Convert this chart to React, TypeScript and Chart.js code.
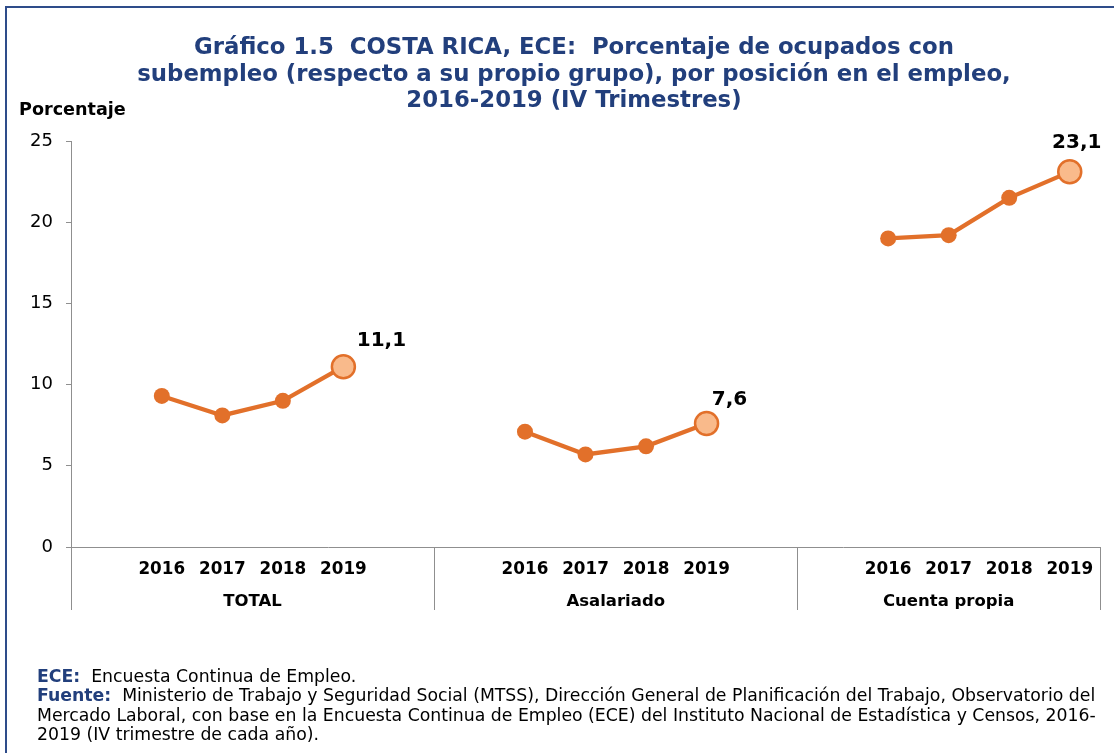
import React, { useEffect, useRef } from "react";
import { Chart, registerables } from "chart.js";

Chart.register(...registerables);

const years = ["2016", "2017", "2018", "2019"];
const groups = ["TOTAL", "Asalariado", "Cuenta propia"];
const totalValues = [9.3, 8.1, 9.0, 11.1];
const asalariadoValues = [7.1, 5.7, 6.2, 7.6];
const cuentaPropiaValues = [19.0, 19.2, 21.5, 23.1];
const yTicks = [0, 5, 10, 15, 20, 25];
const titleLines = [
  "Gráfico 1.5  COSTA RICA, ECE:  Porcentaje de ocupados con",
  "subempleo (respecto a su propio grupo), por posición en el empleo,",
  "2016-2019 (IV Trimestres)",
];
const yAxisTitle = "Porcentaje";

// label placement offsets (pixels) relative to each group's last point
const labelOffsets = [
  { dx: 38, dy: -26 },
  { dx: 23, dy: -24 },
  { dx: 7, dy: -29 },
];

const ORANGE = "#E2702A";
const LIGHT = "#F9BA8B";
const AXIS = "#8f8f8f";
const BLUE = "#223F7C";

// build category slots: empty, 4 years, empty (last group without trailing empty)
const seriesList = [totalValues, asalariadoValues, cuentaPropiaValues];
const labels: string[] = [];
const values: (number | null)[] = [];
const groupStarts: number[] = [];
seriesList.forEach((s, gi) => {
  groupStarts.push(labels.length);
  labels.push("");
  values.push(null);
  years.forEach((y, i) => {
    labels.push(y);
    values.push(s[i]);
  });
  if (gi < seriesList.length - 1) {
    labels.push("");
    values.push(null);
  }
});
const lastIdx = seriesList.map((_, gi) => groupStarts[gi] + years.length);

const decorPlugin = {
  id: "decor",
  afterDraw(chart: any) {
    const { ctx, chartArea, scales } = chart;
    const x = scales.x;
    const y = scales.y;
    const bottom = chartArea.bottom;
    const sepBottom = 610;
    const bounds: number[] = [chartArea.left];
    for (let gi = 1; gi < groupStarts.length; gi++) {
      const i = groupStarts[gi];
      bounds.push((x.getPixelForValue(i - 1) + x.getPixelForValue(i)) / 2);
    }
    bounds.push(chartArea.right);
    ctx.save();
    ctx.strokeStyle = AXIS;
    ctx.lineWidth = 1;
    bounds.forEach((bx) => {
      const px = Math.round(bx) + 0.5;
      ctx.beginPath();
      ctx.moveTo(px, bottom);
      ctx.lineTo(px, sepBottom);
      ctx.stroke();
    });
    ctx.fillStyle = "#000";
    ctx.font = "bold 16.5px 'DejaVu Sans'";
    ctx.textAlign = "center";
    ctx.textBaseline = "middle";
    groups.forEach((g, gi) => {
      ctx.fillText(g, (bounds[gi] + bounds[gi + 1]) / 2, 602);
    });
    // data labels for the last point of each group
    ctx.font = "bold 20px 'DejaVu Sans'";
    ctx.textAlign = "center";
    lastIdx.forEach((idx, gi) => {
      const v = values[idx] as number;
      const px = x.getPixelForValue(idx);
      const py = y.getPixelForValue(v);
      const o = labelOffsets[gi];
      ctx.fillText(v.toFixed(1).replace(".", ","), px + o.dx, py + o.dy);
    });
    ctx.restore();
  },
};

export default function App() {
  const ref = useRef<HTMLCanvasElement>(null);
  useEffect(() => {
    if (!ref.current) return;
    const radius = values.map((v, i) => (lastIdx.includes(i) ? 11.5 : 8));
    const bg = values.map((v, i) => (lastIdx.includes(i) ? LIGHT : ORANGE));
    const bw = values.map((v, i) => (lastIdx.includes(i) ? 2.5 : 0));
    const chart = new Chart(ref.current, {
      type: "line",
      data: {
        labels,
        datasets: [
          {
            data: values,
            borderColor: ORANGE,
            borderWidth: 4.3,
            pointRadius: radius,
            pointBackgroundColor: bg,
            pointBorderColor: ORANGE,
            pointBorderWidth: bw,
            spanGaps: false,
            tension: 0,
          },
        ],
      },
      options: {
        animation: false,
        responsive: false,
        events: [],
        layout: { padding: { top: 141, right: 14, left: 0, bottom: 0 } },
        plugins: { legend: { display: false }, tooltip: { enabled: false }, title: { display: false } },
        scales: {
          x: {
            type: "category",
            offset: true,
            grid: { display: false, drawTicks: false },
            border: { display: true, color: AXIS, width: 1 },
            ticks: {
              autoSkip: false,
              maxRotation: 0,
              color: "#000",
              font: { family: "'DejaVu Sans'", size: 16.8, weight: "bold" },
              padding: 13,
            },
            afterFit: (s: any) => {
              s.height = 753 - 547;
            },
          },
          y: {
            min: 0,
            max: 25,
            afterBuildTicks: (s: any) => {
              s.ticks = yTicks.map((v) => ({ value: v }));
            },
            grid: { drawOnChartArea: false, drawTicks: true, tickLength: 5, color: AXIS },
            border: { display: true, color: AXIS, width: 1 },
            ticks: {
              color: "#000",
              font: { family: "'DejaVu Sans'", size: 18 },
              padding: 13,
            },
            afterFit: (s: any) => {
              s.width = 71;
            },
          },
        },
      },
      plugins: [decorPlugin],
    });
    return () => chart.destroy();
  }, []);

  return (
    <div style={{ position: "fixed", left: 0, top: 0, width: 1114, height: 753, overflow: "hidden", background: "#fff" }}>
      <div
        style={{
          position: "absolute",
          left: 5,
          top: 6,
          width: 1200,
          height: 800,
          border: "2px solid #2E4C8A",
        }}
      />
      <canvas ref={ref} width={1114} height={753} style={{ position: "absolute", left: 0, top: 0 }} />
      <div
        style={{
          position: "absolute",
          left: 0,
          width: 1148,
          top: 33,
          textAlign: "center",
          fontFamily: "'DejaVu Sans'",
          fontWeight: "bold",
          fontSize: 22.8,
          lineHeight: "26.5px",
          color: BLUE,
          whiteSpace: "pre",
        }}
      >
        {titleLines.map((l, i) => (
          <div key={i}>{l}</div>
        ))}
      </div>
      <div
        style={{
          position: "absolute",
          left: 19,
          top: 99,
          fontFamily: "'DejaVu Sans'",
          fontWeight: "bold",
          fontSize: 17.6,
          color: "#000",
          whiteSpace: "pre",
        }}
      >
        {yAxisTitle}
      </div>
      <div
        style={{
          position: "absolute",
          left: 37,
          top: 667,
          fontFamily: "'DejaVu Sans'",
          fontSize: 17.3,
          lineHeight: "19.4px",
          color: "#000",
          whiteSpace: "pre",
        }}
      >
        <div>
          <b style={{ color: BLUE }}>ECE:</b>  Encuesta Continua de Empleo.
        </div>
        <div>
          <b style={{ color: BLUE }}>Fuente:</b>  Ministerio de Trabajo y Seguridad Social (MTSS), Dirección General de Planificación del Trabajo, Observatorio del
        </div>
        <div>Mercado Laboral, con base en la Encuesta Continua de Empleo (ECE) del Instituto Nacional de Estadística y Censos, 2016-</div>
        <div>2019 (IV trimestre de cada año).</div>
      </div>
    </div>
  );
}
